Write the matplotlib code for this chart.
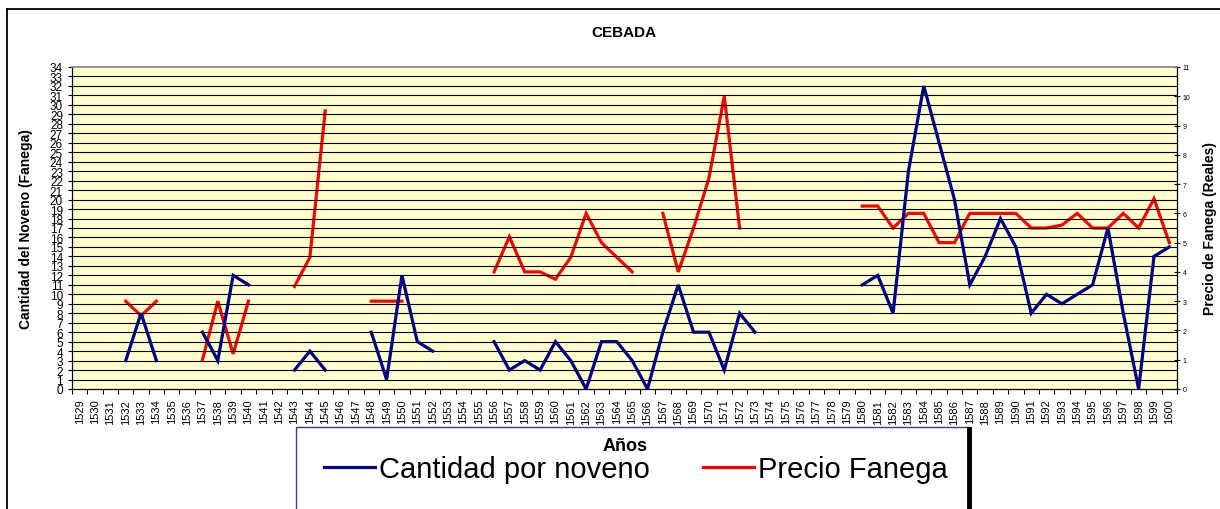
import numpy as np
import matplotlib
matplotlib.use("Agg")
import matplotlib.pyplot as plt
from matplotlib.lines import Line2D
from matplotlib.patches import Rectangle

nan = np.nan

years = [str(y) for y in range(1529, 1601)]

cantidad = [nan, nan, nan, 3, 8, 3, nan, nan, 6, 3, 12, 11, nan, nan, 2, 4, 2,
            nan, nan, 6, 1, 12, 5, 4, nan, nan, nan, 5, 2, 3, 2, 5, 3, 0, 5, 5,
            3, 0, 6, 11, 6, 6, 2, 8, 6, nan, nan, nan, nan, nan, nan, 11, 12, 8,
            23, 32, 26, 20, 11, 14, 18, 15, 8, 10, 9, 10, 11, 17, 8, 0, 14, 15]

precio = [nan, nan, nan, 3, 2.5, 3, nan, nan, 1, 3, 1.2, 3, nan, nan, 3.5, 4.5,
          9.5, nan, nan, 3, 3, 3, nan, nan, nan, nan, nan, 4, 5.2, 4, 4, 3.75,
          4.5, 6, 5, 4.5, 4, nan, 6, 4, 5.5, 7.2, 10, 5.5, nan, nan, nan, nan,
          nan, nan, nan, 6.25, 6.25, 5.5, 6, 6, 5, 5, 6, 6, 6, 6, 5.5, 5.5, 5.6,
          6, 5.5, 5.5, 6, 5.5, 6.5, 5]

left_ticks = list(range(0, 35))
right_ticks = list(range(0, 12))

title = "CEBADA"
ylabel_left = "Cantidad del Noveno (Fanega)"
ylabel_right = "Precio de Fanega (Reales)"
xlabel = "Años"
label_cant = "Cantidad por noveno"
label_prec = "Precio Fanega"

W, H = 1220, 510
plt.rcParams['font.family'] = ['Liberation Sans', 'DejaVu Sans']

fig = plt.figure(figsize=(W / 100, H / 100), dpi=100)


def fx(x):
    return x / W


def fy(y):
    return 1 - y / H


L, R, T, B = 72, 1177, 68, 390
ax = fig.add_axes([fx(L), fy(B), (R - L) / W, (B - T) / H])
ax.set_facecolor('#FFFFCC')

x = np.arange(len(years))
ax.set_xlim(-0.5, len(years) - 0.5)
ax.set_ylim(0, 34)

for v in left_ticks[1:-1]:
    ax.axhline(v, color='black', lw=0.8, zorder=1)

l1, = ax.plot(x, np.array(cantidad, dtype=float), color='#000080', lw=2.3,
              solid_joinstyle='miter', zorder=4)

ax.set_yticks(left_ticks)
ax.set_yticklabels([str(v) for v in left_ticks], fontsize=8.5)
ax.tick_params(axis='y', direction='out', length=3, width=0.8, pad=3.5)

ax.set_xticks(x)
ax.set_xticklabels(years, rotation=90, fontsize=8,
                   family=['Liberation Sans Narrow', 'Liberation Sans'])
ax.tick_params(axis='x', which='major', length=0, pad=7)
ax.set_xticks(np.arange(-0.5, len(years), 1), minor=True)
ax.tick_params(axis='x', which='minor', direction='out', length=3.5, width=0.8)

for s in ['left', 'bottom', 'right']:
    ax.spines[s].set_color('black')
    ax.spines[s].set_linewidth(0.9)
ax.spines['top'].set_color('#808080')
ax.spines['top'].set_linewidth(1.2)

ax.set_ylabel(ylabel_left, fontsize=10, fontweight='bold')
ax.yaxis.set_label_coords((33 - L) / (R - L), 0.5)
ax.set_xlabel(xlabel, fontsize=13, fontweight='bold', va='center')
ax.xaxis.set_label_coords((625 - L) / (R - L), -(447 - B) / (B - T))

ax2 = ax.twinx()
ax2.set_ylim(0, 11)
l2, = ax2.plot(x, np.array(precio, dtype=float), color='#FF0000', lw=2.3,
               solid_joinstyle='miter', zorder=3)
ax2.set_yticks(right_ticks)
ax2.set_yticklabels([str(v) for v in right_ticks], fontsize=5)
ax2.tick_params(axis='y', direction='inout', length=4, width=0.8, pad=2)
ax2.set_ylabel(ylabel_right, fontsize=10, fontweight='bold')
ax2.yaxis.set_label_coords((1203 - L) / (R - L), 0.5)
for s in ax2.spines.values():
    s.set_visible(False)
ax.set_zorder(ax2.get_zorder() + 1)
ax.patch.set_visible(True)
ax2.patch.set_visible(False)
# keep yellow behind: draw ax background on ax2 instead
ax.patch.set_visible(False)
ax2.patch.set_visible(True)
ax2.patch.set_facecolor('#FFFFCC')

fig.suptitle(title, x=fx(624), y=fy(33), fontsize=11, fontweight='bold',
             va='center')

# chart border
fig.add_artist(Line2D([fx(7), fx(7)], [fy(10), fy(515)], color='black',
                      lw=1.3, transform=fig.transFigure))
fig.add_artist(Line2D([fx(7), fx(1225)], [fy(10), fy(10)], color='black',
                      lw=1.3, transform=fig.transFigure))

# legend box
fig.add_artist(Rectangle((fx(296), fy(530)), (970 - 296) / W, (530 - 428) / H,
                         transform=fig.transFigure, facecolor='white',
                         edgecolor='#3a3a9a', lw=1.0, zorder=-1))
fig.add_artist(Line2D([fx(969), fx(969)], [fy(430), fy(515)], color='black',
                      lw=3.5, transform=fig.transFigure, zorder=-0.5))

fig.legend([l1, l2], [label_cant, label_prec], ncol=2, frameon=False,
           fontsize=21, loc='center left',
           bbox_to_anchor=(fx(324), fy(470)), borderaxespad=0, borderpad=0,
           handlelength=1.75, handletextpad=0.15, columnspacing=1.8)

fig.savefig('out.png', dpi=100)
